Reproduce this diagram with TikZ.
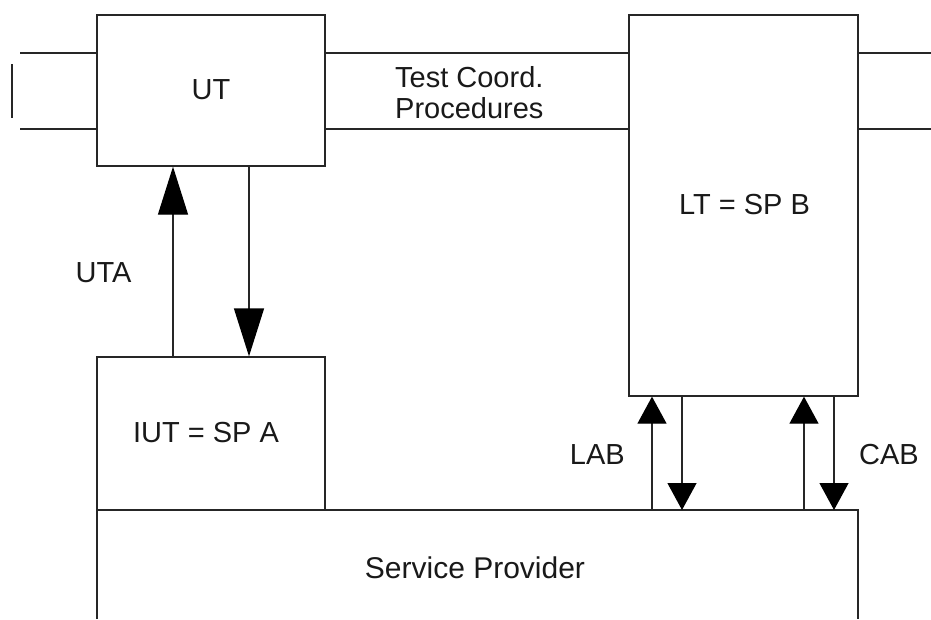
\documentclass[tikz,border=0pt]{standalone}
\usepackage{fontspec}
\setmainfont{Liberation Sans}
\usetikzlibrary{arrows.meta}
\tikzset{
  ln/.style={draw=black!85, line width=1.3pt},
  box/.style={ln, rectangle, inner sep=0pt, minimum width=#1},
  lbl/.style={anchor=base, inner sep=0pt, text=black!90, font=\fontsize{29}{32}\selectfont},
  bigarrow/.style={ln, -{Triangle[length=48pt, width=30pt, color=black, fill=black]}},
  smallarrow/.style={ln, -{Triangle[length=27pt, width=29pt, color=black, fill=black]}},
}
\begin{document}
\begin{tikzpicture}[x=1pt, y=-1pt]
\useasboundingbox (0,0) rectangle (931,619);
% boxes
\node[box=228pt, minimum height=151pt] (ut) at (211,90.5) {};
\node[box=229pt, minimum height=381pt] (lt) at (743.5,205.5) {};
\node[box=228pt, minimum height=153pt] (iut) at (211,433.5) {};
% service provider (open at bottom)
\coordinate (spbl) at (97,619);
\coordinate (spbr) at (858,619);
\coordinate (sptl) at (97,510);
\coordinate (sptr) at (858,510);
\draw[ln] (spbl) -- (sptl) -- (sptr) -- (spbr);
% horizontal lines
\coordinate (la) at (20,53);
\coordinate (lb) at (20,129);
\coordinate (ra) at (931,53);
\coordinate (rb) at (931,129);
\draw[ln] (la) -- (la -| ut.west);
\draw[ln] (lb) -- (lb -| ut.west);
\draw[ln] (la -| ut.east) -- (la -| lt.west);
\draw[ln] (lb -| ut.east) -- (lb -| lt.west);
\draw[ln] (la -| lt.east) -- (ra);
\draw[ln] (lb -| lt.east) -- (rb);
\coordinate (va) at (12,64);
\coordinate (vb) at (12,118);
\draw[ln] (va) -- (vb);
% arrows between UT and IUT
\coordinate (x1) at (173,0);
\coordinate (x2) at (249,0);
\draw[bigarrow] (iut.north -| x1) -- (ut.south -| x1);
\draw[bigarrow] (ut.south -| x2) -- (iut.north -| x2);
% arrows between LT and service provider
\coordinate (x3) at (652,0);
\coordinate (x4) at (682,0);
\coordinate (x5) at (804,0);
\coordinate (x6) at (834,0);
\draw[smallarrow] (sptl -| x3) -- (lt.south -| x3);
\draw[smallarrow] (lt.south -| x4) -- (sptl -| x4);
\draw[smallarrow] (sptl -| x5) -- (lt.south -| x5);
\draw[smallarrow] (lt.south -| x6) -- (sptl -| x6);
% labels
\node[lbl] (tut) at (211,99) {UT};
\node[lbl, anchor=base west] (ttc) at (395,87) {Test Coord.};
\node[lbl, anchor=base west] (tpr) at (395,118) {Procedures};
\node[lbl] (tlt) at (744.5,214) {LT = SP B};
\node[lbl] (tuta) at (103.5,282) {UTA};
\node[lbl] (tiut) at (206,442) {IUT = SP A};
\node[lbl, anchor=base east] (tlab) at (625,464) {LAB};
\node[lbl, anchor=base west] (tcab) at (859,464) {CAB};
\node[lbl, font=\fontsize{30}{33}\selectfont] (tsp) at (475,578) {Service Provider};
\end{tikzpicture}
\end{document}
